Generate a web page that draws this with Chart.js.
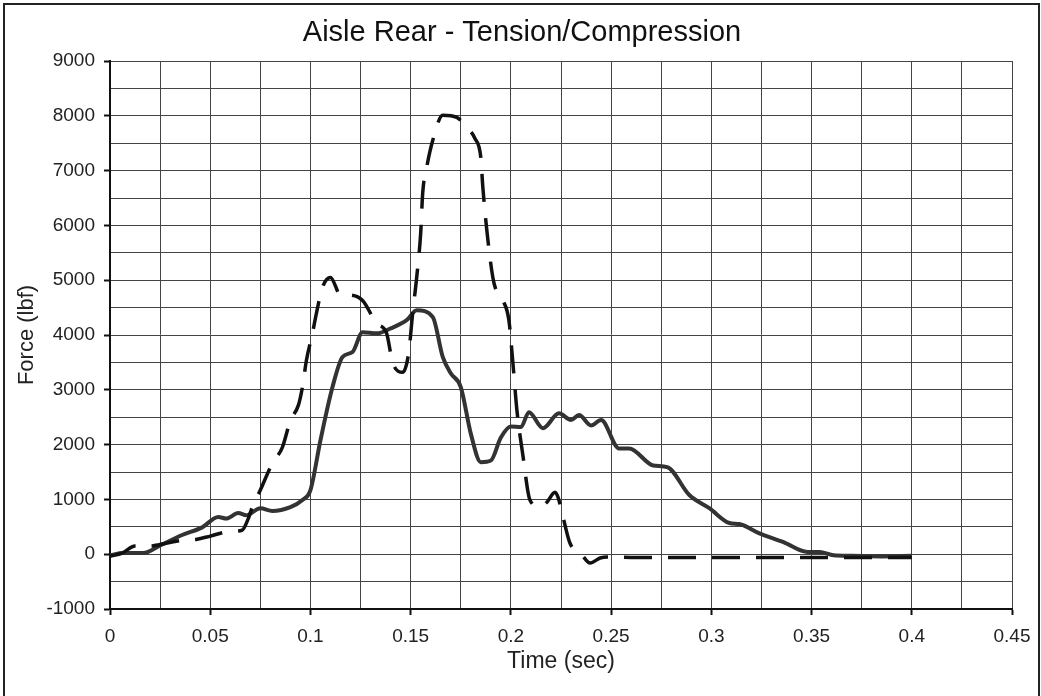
<!DOCTYPE html>
<html>
<head>
<meta charset="utf-8">
<title>Aisle Rear - Tension/Compression</title>
<script src="https://cdn.jsdelivr.net/npm/chart.js@4.4.1/dist/chart.umd.min.js"></script>
<style>
  body { margin: 0; background: #fff; }
  canvas { display: block; }
</style>
</head>
<body>
<canvas id="myChart" width="1041" height="696"></canvas>
<script>
// solid line
const solidTime = [0, 0.0065, 0.0165, 0.025, 0.036, 0.046, 0.054, 0.058, 0.064, 0.068, 0.075, 0.081, 0.09, 0.096, 0.1, 0.105, 0.111, 0.116, 0.121, 0.126, 0.133, 0.14, 0.148, 0.153, 0.161, 0.166, 0.17, 0.175, 0.18, 0.185, 0.19, 0.195, 0.2, 0.205, 0.209, 0.216, 0.224, 0.23, 0.234, 0.24, 0.245, 0.254, 0.259, 0.271, 0.278, 0.289, 0.299, 0.309, 0.314, 0.324, 0.336, 0.348, 0.354, 0.361, 0.37, 0.385, 0.4];
const solidForce = [-20, 20, 20, 160, 350, 490, 680, 650, 750, 710, 840, 790, 860, 990, 1170, 2080, 3050, 3600, 3690, 4050, 4030, 4120, 4270, 4450, 4330, 3600, 3300, 3050, 2200, 1680, 1710, 2130, 2330, 2320, 2590, 2300, 2570, 2450, 2540, 2350, 2450, 1930, 1930, 1620, 1590, 1080, 840, 570, 550, 380, 220, 40, 40, -20, -30, -40, -30];

// dashed line
const dashTime = [0, 0.006, 0.0125, 0.02, 0.028, 0.036, 0.043, 0.05, 0.057, 0.062, 0.066, 0.069, 0.071, 0.075, 0.081, 0.086, 0.09, 0.094, 0.096, 0.098, 0.101, 0.103, 0.106, 0.11, 0.115, 0.118, 0.126, 0.133, 0.138, 0.141, 0.146, 0.149, 0.151, 0.153, 0.155, 0.156, 0.158, 0.161, 0.166, 0.173, 0.178, 0.182, 0.185, 0.186, 0.188, 0.191, 0.193, 0.196, 0.199, 0.201, 0.203, 0.206, 0.2095, 0.2145, 0.218, 0.222, 0.2235, 0.226, 0.2295, 0.2355, 0.2395, 0.2445, 0.248, 0.26, 0.3, 0.35, 0.4];
const dashForce = [-40, 20, 150, 150, 200, 255, 270, 330, 400, 420, 440, 650, 860, 1170, 1660, 1950, 2440, 2720, 3050, 3540, 4030, 4400, 4870, 5050, 4730, 4730, 4630, 4210, 4030, 3500, 3320, 3670, 4400, 5050, 5860, 6590, 7060, 7550, 8010, 7970, 7790, 7590, 7240, 6700, 5910, 5050, 4780, 4630, 4270, 3490, 2630, 1800, 990, 860, 950, 1130, 1040, 680, 200, -20, -160, -70, -50, -60, -60, -60, -60];

const xMin = 0, xMax = 0.45, xStep = 0.025;
const yMin = -1000, yMax = 9000, yStep = 500;

const fontFam = '"Liberation Sans", Arial, sans-serif';

function toPoints(xs, ys) {
  return xs.map((x, i) => ({ x: x, y: ys[i] }));
}

function isMajor(v, step) {
  const r = v / step;
  return Math.abs(r - Math.round(r)) < 1e-6;
}

// white page + frame around the figure
const frame = {
  id: 'frame',
  beforeDraw(chart) {
    const c = chart.ctx;
    c.save();
    c.fillStyle = '#fff';
    c.fillRect(0, 0, chart.width, chart.height);
    c.restore();
  },
  afterDraw(chart) {
    const c = chart.ctx;
    c.save();
    c.strokeStyle = '#222';
    c.lineWidth = 2;
    c.beginPath();
    c.moveTo(4, 696);
    c.lineTo(4, 4);
    c.lineTo(1039, 4);
    c.lineTo(1039, 696);
    c.stroke();
    c.restore();
  }
};

var ctx = document.getElementById('myChart').getContext('2d');
var chart = new Chart(ctx, {
  type: 'scatter',
  data: {
    datasets: [{
      label: 'solid',
      data: toPoints(solidTime, solidForce),
      showLine: true,
      borderColor: '#333',
      borderWidth: 4,
      pointRadius: 0,
      cubicInterpolationMode: 'monotone',
      order: 2
    }, {
      label: 'dashed',
      data: toPoints(dashTime, dashForce),
      showLine: true,
      borderColor: '#111',
      borderWidth: 3.5,
      borderDash: [28, 16],
      pointRadius: 0,
      cubicInterpolationMode: 'monotone',
      order: 1
    }]
  },
  options: {
    responsive: false,
    animation: false,
    // left padding shifts the title box so it centres like the original
    layout: { padding: { left: 32, right: 29, top: 0, bottom: 0 } },
    plugins: {
      legend: { display: false },
      tooltip: { enabled: false },
      title: {
        display: true,
        text: 'Aisle Rear - Tension/Compression',
        color: '#111',
        font: { family: fontFam, size: 29, weight: 'normal' },
        padding: { top: 15.5, bottom: 10.7 }
      }
    },
    scales: {
      x: {
        type: 'linear',
        min: xMin,
        max: xMax,
        afterFit: s => { s.height = 87; },
        ticks: {
          stepSize: xStep,
          autoSkip: false,
          maxRotation: 0,
          padding: 10,
          color: '#222',
          font: { family: fontFam, size: 19 },
          callback: v => isMajor(v, 0.05) ? String(Math.round(v * 100) / 100) : ''
        },
        grid: {
          color: '#444',
          lineWidth: 1,
          tickLength: 6,
          tickWidth: 2,
          tickColor: c => (c.tick && isMajor(c.tick.value, 0.05)) ? '#111' : 'rgba(0,0,0,0)'
        },
        border: { color: '#111', width: 2 },
        title: {
          display: true,
          text: 'Time (sec)',
          color: '#222',
          font: { family: fontFam, size: 23 },
          padding: { top: 0, bottom: 20.2 }
        }
      },
      y: {
        type: 'linear',
        min: yMin,
        max: yMax,
        afterFit: s => { s.width = 78; },
        ticks: {
          stepSize: yStep,
          autoSkip: false,
          padding: 9,
          color: '#222',
          font: { family: fontFam, size: 19 },
          callback: v => isMajor(v, 1000) ? String(v) : ''
        },
        grid: {
          color: '#444',
          lineWidth: 1,
          tickLength: 6,
          tickWidth: 2,
          tickColor: c => (c.tick && isMajor(c.tick.value, 1000)) ? '#111' : 'rgba(0,0,0,0)'
        },
        border: { color: '#111', width: 2 },
        title: {
          display: true,
          text: 'Force (lbf)',
          color: '#222',
          font: { family: fontFam, size: 22 },
          padding: { top: -18.2, bottom: 0 }
        }
      }
    }
  },
  plugins: [frame]
});
</script>
</body>
</html>
